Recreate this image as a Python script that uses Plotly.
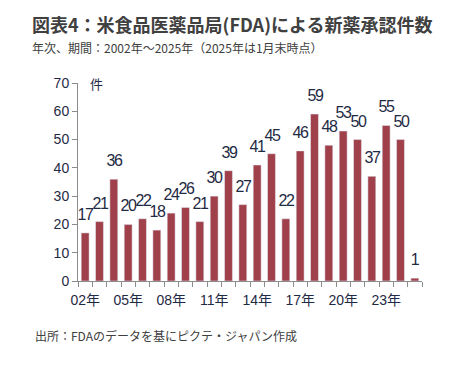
import plotly.graph_objects as go

years = list(range(2002, 2026))
approvals = [17, 21, 36, 20, 22, 18, 24, 26, 21, 30, 39, 27, 41, 45, 22, 46, 59, 48, 53, 50, 37, 55, 50, 1]
tick_years = [2002, 2005, 2008, 2011, 2014, 2017, 2020, 2023]
tick_labels = ["02年", "05年", "08年", "11年", "14年", "17年", "20年", "23年"]

FONT = "Liberation Sans, Noto Sans CJK JP, sans-serif"
TXT = "#1F2A44"

fig = go.Figure()
fig.add_trace(go.Bar(
    x=years, y=approvals,
    marker_color="#A0404A",
    width=0.55,
))

fig.update_layout(
    width=460, height=366,
    margin=dict(l=78, r=38, t=83, b=85),
    paper_bgcolor="white", plot_bgcolor="white",
    showlegend=False,
    font=dict(family=FONT, color=TXT),
    xaxis=dict(
        range=[2001.5, 2025.5],
        tickmode="array", tickvals=tick_years, ticktext=tick_labels,
        ticks="", showgrid=False, zeroline=False,
        showline=True, linecolor="#8C8C8C", linewidth=1,
        ticklabelstandoff=6,
        tickfont=dict(family=FONT, size=14, color=TXT),
        minor=dict(tickmode="array", tickvals=[y + 0.5 for y in range(2001, 2026)],
                   ticks="outside", ticklen=5, tickcolor="#8C8C8C", showgrid=False),
    ),
    yaxis=dict(
        range=[0, 70], dtick=10,
        ticks="outside", ticklen=5, tickcolor="#8C8C8C",
        showgrid=False, zeroline=False,
        showline=True, linecolor="#8C8C8C", linewidth=1,
        tickfont=dict(family=FONT, size=14, color=TXT),
    ),
    bargap=0.45,
)

# indices 0-3: header/footer texts
fig.add_annotation(text="<b>図表4：米食品医薬品局(FDA)による新薬承認件数</b>", xref="paper", yref="paper",
                   x=-0.14, y=1.0, xanchor="left", yanchor="bottom", yshift=44, showarrow=False,
                   font=dict(family="Noto Sans CJK JP", size=18, color="#404040"))
fig.add_annotation(text="年次、期間：2002年～2025年（2025年は1月末時点）", xref="paper", yref="paper",
                   x=-0.14, y=1.0, xanchor="left", yanchor="bottom", yshift=25, showarrow=False,
                   font=dict(family="Noto Sans CJK JP", size=12, color="#404040"))
fig.add_annotation(text="出所：FDAのデータを基にピクテ・ジャパン作成", xref="paper", yref="paper",
                   x=-0.13, y=0, xanchor="left", yanchor="top", yshift=-44, showarrow=False,
                   font=dict(family="Noto Sans CJK JP", size=12, color="#404040"))
fig.add_annotation(text="件", xref="paper", yref="y", x=0.055, y=70, xanchor="center", yanchor="middle",
                   showarrow=False, font=dict(family="Noto Sans CJK JP", size=13, color=TXT))

# value labels
for yr, v in zip(years, approvals):
    fig.add_annotation(x=yr, y=v, text=str(v), xref="x", yref="y",
                       xanchor="center", yanchor="bottom", yshift=8, showarrow=False,
                       font=dict(family=FONT, size=16, color=TXT))

post = (
    "document.body.style.margin='0';"
    "var s=document.createElement('style');"
    "s.textContent='.main-svg .annotation .annotation-text{letter-spacing:-1.6px;}"
    ".main-svg .annotation[data-index=\"0\"] .annotation-text,"
    ".main-svg .annotation[data-index=\"1\"] .annotation-text,"
    ".main-svg .annotation[data-index=\"2\"] .annotation-text,"
    ".main-svg .annotation[data-index=\"3\"] .annotation-text{letter-spacing:0 !important;}';"
    "document.head.appendChild(s);"
)
fig.write_html("out.html", post_script=post, config={"displayModeBar": False})
